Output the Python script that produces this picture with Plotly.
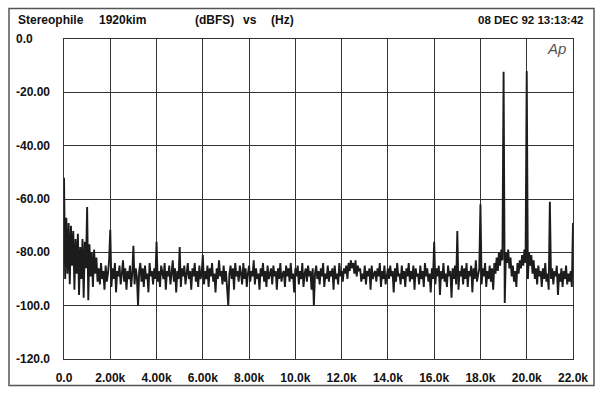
import plotly.graph_objects as go

# FFT spectrum levels (dBFS), one value every 50 Hz from 0 Hz to 22 kHz
level_db = [
    -52, -90, -67, -88, -69, -92, -70, -85, -72, -94,
    -75, -88, -73, -96, -78, -90, -75, -97, -76, -86,
    -63, -98, -77, -89, -80, -93, -79, -88, -82, -91,
    -86, -92, -84, -90, -87, -94, -85, -91, -88, -83,
    -71.5, -93, -86, -90, -84, -95, -87, -89, -85, -92,
    -88, -83, -91, -86, -94, -87, -90, -85, -93, -88,
    -77.5, -92, -86, -89, -100, -87, -84, -91, -86, -93,
    -85, -90, -88, -95, -84, -89, -87, -92, -86, -90,
    -76, -91, -87, -93, -85, -88, -90, -84, -94, -87,
    -89, -85, -92, -88, -83, -91, -86, -95, -87, -90,
    -78, -93, -86, -89, -85, -92, -88, -84, -90, -87,
    -94, -86, -89, -84, -91, -87, -93, -85, -90, -88,
    -81, -92, -87, -90, -85, -93, -86, -89, -84, -91,
    -88, -95, -86, -90, -83, -89, -87, -92, -85, -91,
    -87, -93, -100, -88, -85, -90, -86, -94, -84, -89,
    -87, -91, -85, -88, -92, -84, -90, -86, -93, -88,
    -85, -91, -87, -89, -83, -92, -86, -90, -88, -94,
    -86, -89, -84, -91, -87, -93, -85, -90, -88, -86,
    -92, -85, -89, -87, -94, -86, -90, -84, -91, -88,
    -87, -93, -85, -89, -86, -91, -84, -90, -88, -95,
    -86, -89, -85, -92, -87, -90, -84, -93, -88, -86,
    -91, -85, -89, -87, -94, -86, -100, -88, -85, -90,
    -87, -92, -86, -89, -84, -93, -88, -90, -85, -91,
    -87, -89, -86, -94, -85, -90, -88, -92, -84, -89,
    -87, -91, -86, -88, -85, -90, -84, -87, -83, -86,
    -84, -88, -83, -89, -85, -87, -86, -91, -88, -90,
    -85, -92, -87, -89, -86, -94, -85, -90, -88, -87,
    -91, -86, -89, -84, -93, -87, -90, -85, -92, -88,
    -86, -90, -85, -89, -87, -95, -86, -91, -84, -89,
    -88, -92, -85, -90, -87, -93, -86, -89, -84, -91,
    -87, -90, -85, -94, -86, -89, -88, -92, -85, -90,
    -87, -93, -84, -89, -86, -91, -88, -95, -86, -90,
    -76, -92, -86, -89, -85, -96, -87, -90, -84, -91,
    -88, -93, -85, -89, -87, -97, -86, -90, -85, -92,
    -72, -94, -87, -89, -85, -92, -86, -90, -84, -93,
    -87, -89, -85, -95, -86, -90, -83, -91, -88, -86,
    -62, -92, -86, -89, -84, -93, -87, -90, -85, -91,
    -86, -94, -84, -88, -82, -87, -80, -85, -79, -83,
    -12.3, -99, -80, -84, -79, -86, -82, -89, -85, -91,
    -87, -93, -84, -88, -83, -86, -81, -85, -79, -84,
    -12, -90, -80, -85, -81, -88, -83, -90, -86, -92,
    -85, -89, -87, -93, -86, -90, -84, -91, -88, -94,
    -61, -90, -86, -92, -87, -89, -85, -96, -88, -91,
    -86, -93, -87, -90, -85, -92, -88, -91, -87, -93,
    -69,
]
bin_hz = 50
freq_hz = [i * bin_hz for i in range(len(level_db))]

x_ticks = [0, 2000, 4000, 6000, 8000, 10000, 12000, 14000, 16000, 18000, 20000, 22000]
x_tick_text = ["0.0", "2.00k", "4.00k", "6.00k", "8.00k", "10.0k", "12.0k",
               "14.0k", "16.0k", "18.0k", "20.0k", "22.0k"]
y_ticks = [0, -20, -40, -60, -80, -100, -120]
y_tick_text = ["0.0", "-20.00", "-40.00", "-60.00", "-80.00", "-100.0", "-120.0"]

header_left = ["Stereophile", "1920kim", "(dBFS)", "vs", "(Hz)"]
header_left_px = [16, 97, 193, 241, 269]
header_date = "08 DEC 92 13:13:42"

W, H = 600, 397
L, R, T, B = 64, 573, 39, 364
FONT = "Liberation Sans, Arial, Helvetica, sans-serif"


def px_x(p):
    return (p - L) / (R - L)


def px_y(p):
    return (B - p) / (B - T)


fig = go.Figure()
fig.add_trace(go.Scatter(
    x=freq_hz, y=level_db, mode="lines",
    line=dict(color="#1c1c1c", width=1.9),
    showlegend=False, hoverinfo="skip",
))

annotations = []
for v, t in zip(y_ticks, y_tick_text):
    annotations.append(dict(
        x=px_x(14), xref="paper", y=v, yref="y", text=t, showarrow=False,
        xanchor="left", yanchor="middle",
        font=dict(family=FONT, size=12, color="#111", weight="bold"),
    ))
for t, p in zip(header_left, header_left_px):
    annotations.append(dict(
        x=px_x(p), xref="paper", y=px_y(20), yref="paper", text=t, showarrow=False,
        xanchor="left", yanchor="middle",
        font=dict(family=FONT, size=12, color="#111", weight="bold"),
    ))
annotations.append(dict(
    x=px_x(585), xref="paper", y=px_y(20), yref="paper", text=header_date,
    showarrow=False, xanchor="right", yanchor="middle",
    font=dict(family=FONT, size=11.5, color="#111", weight="bold"),
))
annotations.append(dict(
    x=px_x(556), xref="paper", y=px_y(49), yref="paper", text="<i>Ap</i>",
    showarrow=False, xanchor="center", yanchor="middle",
    font=dict(family=FONT, size=15, color="#555"),
))

fig.update_layout(
    width=W, height=H,
    margin=dict(l=L, r=W - R, t=T, b=H - B),
    paper_bgcolor="white", plot_bgcolor="white",
    annotations=annotations,
    shapes=[dict(
        type="rect", xref="paper", yref="paper",
        x0=px_x(9), x1=px_x(594), y0=px_y(391), y1=px_y(8),
        line=dict(color="#555", width=1.5), layer="below",
    )],
    xaxis=dict(
        range=[0, 22000], tickvals=x_ticks, ticktext=x_tick_text,
        showgrid=True, gridcolor="#333", gridwidth=1, zeroline=False,
        showline=True, linecolor="#333", linewidth=1.2, mirror=True,
        ticks="", ticklabelstandoff=7,
        tickfont=dict(family=FONT, size=12, color="#111", weight="bold"),
    ),
    yaxis=dict(
        range=[-120, 0], tickvals=y_ticks, showticklabels=False,
        showgrid=True, gridcolor="#333", gridwidth=1, zeroline=False,
        showline=True, linecolor="#333", linewidth=1.2, mirror=True, ticks="",
    ),
)

fig.write_html("out.html")
